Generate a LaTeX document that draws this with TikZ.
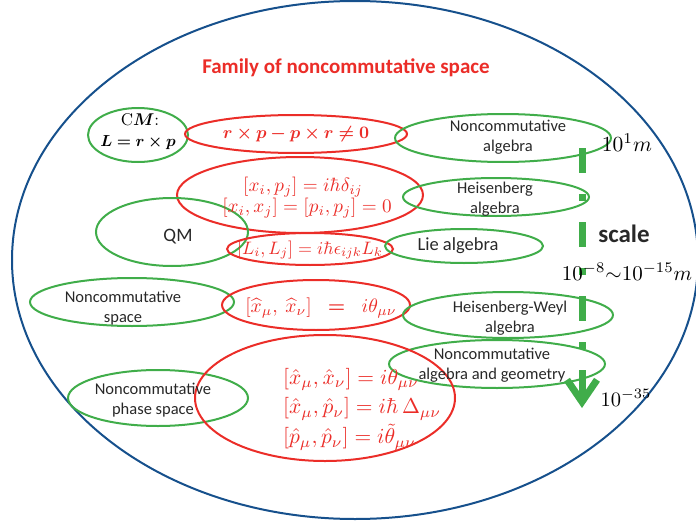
\documentclass[tikz,border=0pt]{standalone}
\usepackage{amsmath,bm}
\usepackage[no-math]{fontspec}
\setmainfont{Carlito}
\usetikzlibrary{shapes.geometric,arrows.meta}
\definecolor{ngreen}{RGB}{64,173,74}
\definecolor{nred}{RGB}{235,45,40}
\definecolor{nblue}{RGB}{22,80,140}
\definecolor{dgray}{RGB}{40,40,40}
\newcommand{\mz}[2]{\scalebox{#1}{$#2$}}
\begin{document}
\begin{tikzpicture}[x=1pt,y=-1pt,
  gell/.style={draw=ngreen, line width=2pt, ellipse, inner sep=0pt},
  rell/.style={draw=nred, line width=2pt, ellipse, inner sep=0pt},
  ctext/.style={text=dgray, align=center, inner sep=0pt, font=\fontsize{16.5}{20}\selectfont},
  rtext/.style={text=nred, inner sep=0pt},
  mtext/.style={text=black, inner sep=0pt}]
\useasboundingbox (0,0) rectangle (696,527);
\node[draw=nblue, line width=2pt, ellipse, inner sep=0pt, minimum width=686pt, minimum height=518pt] (outer) at (355,260) {};
\node[text=nred, inner sep=0pt, font=\fontsize{21}{25}\selectfont\bfseries] (title) at (346,68) {Family of noncommutative space};
% ellipses
\node[gell, minimum width=100pt, minimum height=54pt] (cm) at (138,135) {};
\node[rell, minimum width=222pt, minimum height=38pt] (rp) at (296,134) {};
\node[gell, minimum width=216pt, minimum height=48pt] (nca) at (503,138) {};
\node[rell, minimum width=246pt, minimum height=76pt] (xp) at (300,195) {};
\node[gell, minimum width=186pt, minimum height=38pt] (heis) at (496,197) {};
\node[gell, minimum width=152pt, minimum height=68pt] (qm) at (172,232) {};
\node[rell, minimum width=166pt, minimum height=32pt] (lij) at (310,249) {};
\node[gell, minimum width=158pt, minimum height=34pt] (lie) at (464,246) {};
\node[gell, minimum width=204pt, minimum height=48pt] (ncs) at (132,302) {};
\node[rell, minimum width=188pt, minimum height=50pt] (xx) at (316,305) {};
\node[gell, minimum width=210pt, minimum height=46pt] (hw) at (508,315) {};
\node[gell, minimum width=216pt, minimum height=48pt] (ncag) at (497,364) {};
\node[gell, minimum width=180pt, minimum height=56pt] (ncps) at (158,398) {};
\node[rell, minimum width=260pt, minimum height=126pt] (big) at (325,398) {};
% texts
\node[mtext] (cmt1) at (140,120) {\mz{1.7}{\mathrm{C}\bm{M}\mathrm{:}}};
\node[mtext] (cmt2) at (138,143) {\mz{1.6}{\bm{L=r\times p}}};
\node[rtext] (rpt) at (296,134) {\mz{1.75}{\bm{r\times p-p\times r\neq 0}}};
\node[ctext] (ncat) at (508,137) {Noncommutative\\algebra};
\node[rtext] (xpt1) at (303,187) {\mz{1.92}{[x_i,p_j]=i\hbar\delta_{ij}}};
\node[rtext] (xpt2) at (307,208) {\mz{1.92}{[x_i,x_j]=[p_i,p_j]=0}};
\node[ctext] (heist) at (495,199) {Heisenberg\\algebra};
\node[ctext, font=\fontsize{19}{22}\selectfont] (qmt) at (178,237) {QM};
\node[rtext] (lijt) at (310,250) {\mz{1.8}{\left[L_i,L_j\right]=i\hbar\epsilon_{ijk}L_k}};
\node[ctext, font=\fontsize{18.5}{22}\selectfont] (liet) at (458,246) {Lie algebra};
\node[ctext] (ncst) at (123,308) {Noncommutative\\space};
\node[rtext] (xxt) at (321,308) {\mz{1.95}{\left[\widehat{x}_\mu,\ \widehat{x}_\nu\right]\;\;\boldsymbol{=}\;\;i\theta_{\mu\nu}}};
\node[ctext] (hwt) at (510,318) {Heisenberg-Weyl\\algebra};
\node[ctext] (ncagt) at (492,365) {Noncommutative\\algebra and geometry};
\node[ctext] (ncpst) at (153,400) {Noncommutative\\phase space};
\node[rtext, anchor=west] (bigt) at (283,408) {\renewcommand{\arraystretch}{1.16}\mz{2.15}{\begin{array}{@{}l@{}}
\left[\hat{x}_\mu,\hat{x}_\nu\right]=i\theta_{\mu\nu}\\
\left[\hat{x}_\mu,\hat{p}_\nu\right]=i\hbar\,\Delta_{\mu\nu}\\
\left[\hat{p}_\mu,\hat{p}_\nu\right]=i\tilde{\theta}_{\mu\nu}
\end{array}}};
% scale
\coordinate (as) at (582,148);
\coordinate (ae) at (582,408);
\draw[ngreen, line width=7pt, dash pattern=on 25pt off 21pt on 7pt off 21pt, -{Straight Barb[length=22pt,width=30pt]}] (as) -- (ae);
\node[mtext] (s1) at (627,143) {\mz{2.15}{10^1m}};
\node[text=dgray, inner sep=0pt, font=\fontsize{25}{28}\selectfont\bfseries] (scl) at (624,234) {scale};
\node[mtext] (s2) at (627,272) {\mz{2.1}{10^{-8}{\sim}10^{-15}m}};
\node[mtext] (s3) at (626,398) {\mz{2.05}{10^{-35}}};
\end{tikzpicture}
\end{document}
